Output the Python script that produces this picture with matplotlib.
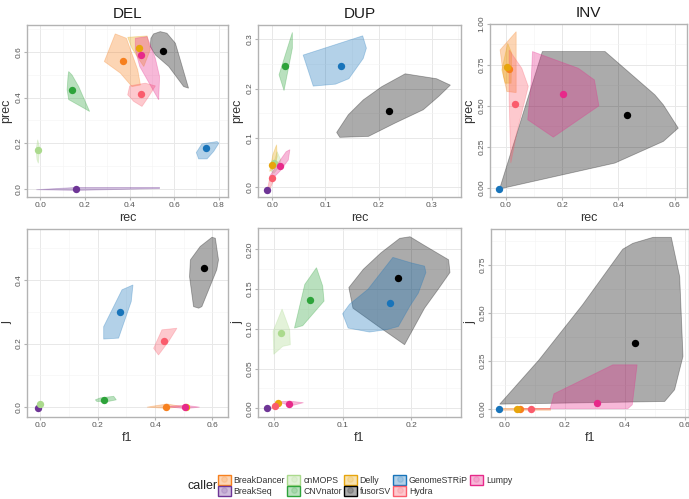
import matplotlib.pyplot as plt
import numpy as np
from matplotlib.patches import Patch
from matplotlib.lines import Line2D
from matplotlib.ticker import FormatStrFormatter, MultipleLocator

plt.rcParams['font.family'] = ['Liberation Sans', 'DejaVu Sans']

# callers and their colours (legend order)
callers = ['BreakDancer', 'BreakSeq', 'cnMOPS', 'CNVnator', 'Delly',
           'fusorSV', 'GenomeSTRiP', 'Hydra', 'Lumpy']
caller_colors = ['#F7801E', '#6E3596', '#ABDA8D', '#2DA33A', '#E7A50C',
                 '#000000', '#1874BA', '#FA5C6C', '#E7298A']

# ---- DEL: rec vs prec ----
del_prec_mean = {
    'BreakDancer': (0.369, 0.558), 'Delly': (0.441, 0.616), 'Lumpy': (0.452, 0.587),
    'Hydra': (0.452, 0.416), 'fusorSV': (0.550, 0.604), 'CNVnator': (0.144, 0.431),
    'cnMOPS': (-0.012, 0.171), 'GenomeSTRiP': (0.745, 0.178), 'BreakSeq': (0.161, 0.0),
}
del_prec_hull = {
    'BreakDancer': [(0.287, 0.558), (0.336, 0.679), (0.386, 0.660), (0.437, 0.521),
                    (0.449, 0.455), (0.411, 0.448), (0.359, 0.507)],
    'BreakSeq': [(-0.018, -0.004), (0.164, 0.006), (0.535, 0.006), (0.535, 0.001), (0.164, -0.007)],
    'cnMOPS': [(-0.019, 0.171), (-0.012, 0.215), (-0.003, 0.178), (-0.009, 0.112), (-0.015, 0.127)],
    'CNVnator': [(0.127, 0.514), (0.142, 0.499), (0.172, 0.448), (0.221, 0.339),
                 (0.187, 0.358), (0.127, 0.391), (0.120, 0.434), (0.124, 0.492)],
    'Delly': [(0.392, 0.664), (0.479, 0.670), (0.493, 0.609), (0.464, 0.536),
              (0.434, 0.580), (0.411, 0.616)],
    'fusorSV': [(0.496, 0.660), (0.508, 0.679), (0.538, 0.689), (0.568, 0.682), (0.606, 0.638),
                (0.628, 0.565), (0.665, 0.441), (0.643, 0.448), (0.576, 0.536), (0.516, 0.587),
                (0.493, 0.623)],
    'GenomeSTRiP': [(0.700, 0.159), (0.725, 0.197), (0.793, 0.207), (0.801, 0.200),
                    (0.778, 0.164), (0.748, 0.131), (0.710, 0.131)],
    'Hydra': [(0.392, 0.412), (0.401, 0.451), (0.471, 0.463), (0.516, 0.451),
              (0.486, 0.404), (0.456, 0.361), (0.419, 0.383)],
    'Lumpy': [(0.426, 0.660), (0.479, 0.667), (0.516, 0.572), (0.535, 0.492),
              (0.531, 0.390), (0.501, 0.441), (0.446, 0.536), (0.426, 0.609)],
}

# ---- DUP: rec vs prec ----
dup_prec_mean = {
    'CNVnator': (0.0245, 0.245), 'GenomeSTRiP': (0.129, 0.246), 'fusorSV': (0.219, 0.155),
    'cnMOPS': (0.004, 0.049), 'Delly': (-0.001, 0.045), 'Lumpy': (0.014, 0.042),
    'Hydra': (-0.001, 0.018), 'BreakSeq': (-0.010, -0.005),
}
dup_prec_hull = {
    'cnMOPS': [(-0.002, 0.032), (0.009, 0.072), (0.016, 0.055), (0.011, 0.039), (0.003, 0.028)],
    'CNVnator': [(0.0126, 0.228), (0.0377, 0.314), (0.0377, 0.282), (0.022, 0.196)],
    'Delly': [(-0.005, 0.032), (0.001, 0.066), (0.008, 0.086), (0.009, 0.062), (0.004, 0.039)],
    'fusorSV': [(0.121, 0.111), (0.143, 0.147), (0.171, 0.177), (0.206, 0.204), (0.250, 0.230),
                (0.309, 0.220), (0.335, 0.207), (0.313, 0.184), (0.284, 0.157), (0.231, 0.130),
                (0.181, 0.103), (0.127, 0.101)],
    'GenomeSTRiP': [(0.058, 0.268), (0.170, 0.307), (0.177, 0.282), (0.171, 0.261),
                    (0.144, 0.220), (0.119, 0.209), (0.077, 0.205)],
    'Hydra': [(-0.009, -0.004), (-0.005, 0.018), (0.001, 0.022), (0.003, 0.015), (-0.005, -0.005)],
    'Lumpy': [(-0.005, 0.022), (0.011, 0.049), (0.026, 0.072), (0.033, 0.076),
              (0.030, 0.055), (0.014, 0.032), (0.001, 0.018)],
}

# ---- INV: rec vs prec ----
inv_prec_mean = {
    'Delly': (0.006, 0.740), 'BreakDancer': (0.013, 0.724), 'Hydra': (0.034, 0.515),
    'Lumpy': (0.202, 0.572), 'fusorSV': (0.432, 0.448), 'GenomeSTRiP': (-0.024, -0.008),
}
inv_prec_hull = {
    'BreakDancer': [(-0.020, 0.842), (0.037, 0.953), (0.037, 0.582), (0.004, 0.588), (-0.008, 0.680)],
    'Delly': [(-0.014, 0.720), (0.007, 0.882), (0.021, 0.822), (0.019, 0.639), (-0.002, 0.639)],
    'fusorSV': [(-0.022, -0.006), (0.130, 0.832), (0.353, 0.832), (0.530, 0.568),
                (0.560, 0.507), (0.613, 0.365), (0.560, 0.284), (0.388, 0.152)],
    'Hydra': [(0.012, 0.842), (0.057, 0.730), (0.080, 0.619), (0.039, 0.335),
              (0.018, 0.152), (0.012, 0.538)],
    'Lumpy': [(0.095, 0.832), (0.258, 0.730), (0.315, 0.659), (0.331, 0.501),
              (0.169, 0.310), (0.078, 0.416), (0.090, 0.639)],
}

# ---- DEL: f1 vs j ----
del_j_mean = {
    'fusorSV': (0.569, 0.437), 'GenomeSTRiP': (0.279, 0.298), 'Hydra': (0.430, 0.209),
    'CNVnator': (0.221, 0.023), 'BreakDancer': (0.438, 0.002), 'Delly': (0.509, 0.002),
    'Lumpy': (0.505, 0.0), 'cnMOPS': (-0.002, 0.010), 'BreakSeq': (-0.006, -0.003),
}
del_j_hull = {
    'BreakDancer': [(0.372, 0.0), (0.441, 0.010), (0.494, 0.002), (0.441, -0.004)],
    'cnMOPS': [(-0.009, 0.007), (0.0, 0.017), (0.007, 0.007), (-0.002, 0.002)],
    'CNVnator': [(0.192, 0.023), (0.209, 0.029), (0.256, 0.034), (0.265, 0.023),
                 (0.238, 0.018), (0.197, 0.018)],
    'Delly': [(0.500, 0.0), (0.515, 0.004), (0.520, 0.0)],
    'fusorSV': [(0.523, 0.463), (0.557, 0.505), (0.598, 0.534), (0.610, 0.531), (0.621, 0.463),
                (0.615, 0.432), (0.563, 0.316), (0.552, 0.311), (0.534, 0.316), (0.520, 0.410)],
    'GenomeSTRiP': [(0.221, 0.253), (0.285, 0.369), (0.323, 0.384), (0.317, 0.332),
                    (0.273, 0.217), (0.221, 0.214)],
    'Hydra': [(0.395, 0.185), (0.424, 0.243), (0.476, 0.248), (0.447, 0.206), (0.412, 0.164)],
    'Lumpy': [(0.441, 0.002), (0.505, 0.006), (0.555, 0.0), (0.505, -0.005)],
}

# ---- DUP: f1 vs j ----
dup_j_mean = {
    'fusorSV': (0.180, 0.164), 'GenomeSTRiP': (0.169, 0.133), 'CNVnator': (0.052, 0.136),
    'cnMOPS': (0.011, 0.095), 'Lumpy': (0.022, 0.006), 'Delly': (0.006, 0.007),
    'Hydra': (0.002, 0.003), 'BreakSeq': (-0.010, 0.0),
}
dup_j_hull = {
    'cnMOPS': [(0.0, 0.068), (-0.001, 0.097), (0.012, 0.125), (0.023, 0.099),
               (0.024, 0.080), (0.013, 0.078)],
    'CNVnator': [(0.030, 0.101), (0.045, 0.156), (0.062, 0.177), (0.071, 0.154),
                 (0.073, 0.135), (0.042, 0.104)],
    'fusorSV': [(0.109, 0.152), (0.130, 0.175), (0.156, 0.196), (0.183, 0.214), (0.198, 0.216),
                (0.217, 0.206), (0.254, 0.187), (0.256, 0.171), (0.239, 0.150), (0.219, 0.126),
                (0.190, 0.080), (0.152, 0.103), (0.115, 0.126)],
    'GenomeSTRiP': [(0.100, 0.119), (0.110, 0.131), (0.137, 0.150), (0.173, 0.190), (0.200, 0.183),
                    (0.219, 0.179), (0.221, 0.171), (0.210, 0.145), (0.198, 0.129), (0.181, 0.103),
                    (0.164, 0.099), (0.139, 0.096), (0.108, 0.101)],
    'Hydra': [(-0.004, 0.0), (0.003, 0.007), (0.011, 0.005), (0.001, 0.0)],
    'Lumpy': [(0.006, 0.008), (0.023, 0.009), (0.043, 0.007), (0.025, 0.003)],
}

# ---- INV: f1 vs j ----
inv_j_mean = {
    'fusorSV': (0.435, 0.342), 'Lumpy': (0.308, 0.030), 'GenomeSTRiP': (-0.018, 0.0),
    'Delly': (0.039, 0.0), 'BreakDancer': (0.049, 0.0), 'Hydra': (0.086, 0.0),
}
inv_j_hull = {
    'BreakDancer': [(-0.018, 0.004), (0.150, 0.004), (0.150, -0.004), (-0.018, -0.004)],
    'fusorSV': [(-0.017, 0.024), (0.114, 0.255), (0.259, 0.542), (0.393, 0.832), (0.427, 0.863),
                (0.494, 0.894), (0.555, 0.894), (0.583, 0.689), (0.594, 0.273), (0.566, 0.099),
                (0.533, 0.038)],
    'Hydra': [(0.040, 0.003), (0.150, 0.003), (0.150, -0.003), (0.040, -0.003)],
    'Lumpy': [(0.151, 0.0), (0.164, 0.078), (0.237, 0.134), (0.360, 0.229),
              (0.441, 0.229), (0.425, 0.021), (0.410, 0.0)],
}

W, H = 689, 499


def rect(l, r, t, b):
    return [l / W, 1 - b / H, (r - l) / W, (b - t) / H]


panels = [
    # means, hulls, title, xlabel, ylabel, box, xlim, ylim, xstep, ystep, yfmt
    (del_prec_mean, del_prec_hull, 'DEL', 'rec', 'prec', rect(27, 228, 25, 197),
     (-0.06, 0.842), (-0.036, 0.718), 0.2, 0.2, '%.1f'),
    (dup_prec_mean, dup_prec_hull, 'DUP', 'rec', 'prec', rect(258, 461, 25, 197),
     (-0.027, 0.355), (-0.02, 0.329), 0.1, 0.1, '%.1f'),
    (inv_prec_mean, inv_prec_hull, 'INV', 'rec', 'prec', rect(490, 687, 24, 197),
     (-0.056, 0.644), (-0.055, 1.0), 0.2, 0.25, '%.2f'),
    (del_j_mean, del_j_hull, None, 'f1', 'j', rect(27, 228, 229, 417),
     (-0.046, 0.654), (-0.031, 0.56), 0.2, 0.2, '%.1f'),
    (dup_j_mean, dup_j_hull, None, 'f1', 'j', rect(258, 461, 228, 417),
     (-0.023, 0.272), (-0.011, 0.227), 0.1, 0.05, '%.2f'),
    (inv_j_mean, inv_j_hull, None, 'f1', 'j', rect(491, 689, 229, 417),
     (-0.046, 0.614), (-0.043, 0.9375), 0.2, 0.25, '%.2f'),
]

fig = plt.figure(figsize=(W / 100, H / 100), dpi=100)

for means, hulls, title, xlab, ylab, box, xlim, ylim, xstep, ystep, yfmt in panels:
    ax = fig.add_axes(box)
    for name, col in zip(callers, caller_colors):
        if name in hulls:
            pts = np.array(hulls[name])
            ax.fill(pts[:, 0], pts[:, 1], facecolor=col, alpha=0.33, edgecolor='none', zorder=2)
            ax.fill(pts[:, 0], pts[:, 1], facecolor='none', edgecolor=col, alpha=0.3,
                    lw=0.6, zorder=2)
    for name, col in zip(callers, caller_colors):
        if name in means:
            x, y = means[name]
            ax.scatter(x, y, s=28, color=col, zorder=4, linewidths=0)

    ax.set_xlim(*xlim)
    ax.set_ylim(*ylim)
    ax.xaxis.set_major_locator(MultipleLocator(xstep))
    ax.xaxis.set_minor_locator(MultipleLocator(xstep / 2))
    ax.yaxis.set_major_locator(MultipleLocator(ystep))
    ax.yaxis.set_minor_locator(MultipleLocator(ystep / 2))
    ax.xaxis.set_major_formatter(FormatStrFormatter('%.1f'))
    ax.yaxis.set_major_formatter(FormatStrFormatter(yfmt))
    ax.grid(which='major', color='#e8e8e8', lw=0.7)
    ax.grid(which='minor', color='#f3f3f3', lw=0.4)
    ax.set_axisbelow(True)
    ax.tick_params(which='both', length=2, color='#b3b3b3', labelsize=6,
                   labelcolor='#555555', pad=1.5)
    ax.tick_params(which='minor', length=0)
    ax.tick_params(axis='y', labelrotation=90)
    for lbl in ax.get_yticklabels():
        lbl.set_verticalalignment('center')
    for sp in ax.spines.values():
        sp.set_color('#b3b3b3')
        sp.set_linewidth(1.0)
    ax.set_xlabel(xlab, fontsize=9, color='#333333', labelpad=2)
    ax.set_ylabel(ylab, fontsize=9, color='#333333', labelpad=2)
    if title:
        ax.set_title(title, fontsize=11, color='#1a1a1a', pad=5)

# legend at the bottom
handles = []
for col in caller_colors:
    handles.append((Patch(facecolor=col, alpha=0.33, edgecolor='none'),
                    Patch(facecolor='none', edgecolor=col, lw=1.0),
                    Line2D([], [], marker='o', ls='none', color=col, alpha=0.15, markersize=4)))
fig.legend(handles, callers, loc='center left', bbox_to_anchor=(218 / W, 1 - 485.5 / H),
           ncol=5, frameon=False, fontsize=6.3, handlelength=1.45, handleheight=1.45,
           handletextpad=0.35, columnspacing=0.25, labelspacing=0.1, borderpad=0,
           borderaxespad=0, labelcolor='#333333')
fig.text(188 / W, 1 - 486 / H, 'caller', fontsize=9, color='#222222', va='center', ha='left')

fig.savefig('out.png', dpi=100)
